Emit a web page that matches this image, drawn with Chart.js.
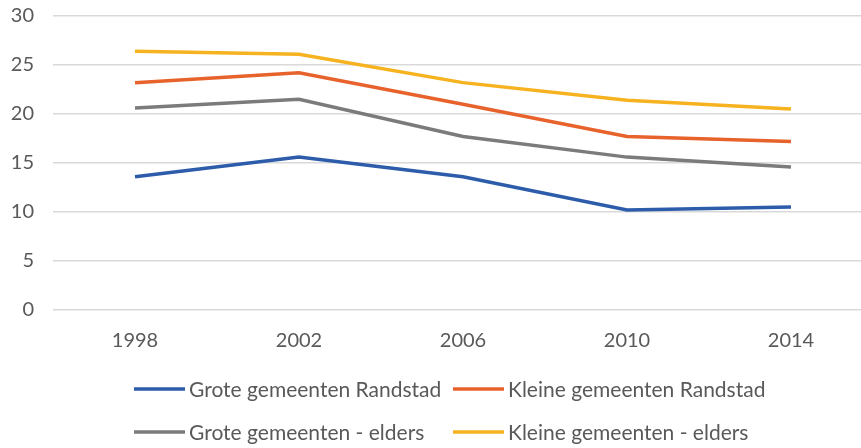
<!DOCTYPE html>
<html>
<head>
<meta charset="utf-8">
<script src="https://cdn.jsdelivr.net/npm/chart.js@4.4.1/dist/chart.umd.min.js"></script>
<style>
    html, body { margin: 0; padding: 0; background: #fff; overflow: hidden; }
    #wrap { position: relative; width: 880px; height: 448px; }
</style>
</head>
<body>
<div id="wrap"><canvas id="lineChart"></canvas></div>
<script>
// ===============================
//  DATA
// ===============================
const years = ["1998", "2002", "2006", "2010", "2014"];

const groteRandstad = [13.6, 15.6, 13.6, 10.2, 10.5];
const kleineRandstad = [23.2, 24.2, 21.0, 17.7, 17.2];
const groteElders = [20.6, 21.5, 17.7, 15.6, 14.6];
const kleineElders = [26.4, 26.1, 23.2, 21.4, 20.5];

const seriesNames = [
    "Grote gemeenten Randstad",
    "Kleine gemeenten Randstad",
    "Grote gemeenten - elders",
    "Kleine gemeenten - elders"
];

const yTicks = [0, 5, 10, 15, 20, 25, 30];

// ===============================
//  COLOURS
// ===============================
const LINE_COLOURS = ["#2c5caa", "#e8622c", "#7b7b7b", "#f6b21f"];
const TEXT_COLOUR = "#595959";
const FONT = "Lato";

// ===============================
//  LEGEND (2 x 2 grid, like the original)
// ===============================
const gridLegend = {
    id: "gridLegend",
    afterDraw(chart, args, opts) {
        const ctx = chart.ctx;
        ctx.save();
        ctx.font = `${opts.size}px ${FONT}`;
        ctx.textBaseline = "middle";
        ctx.textAlign = "left";
        chart.data.datasets.forEach((ds, i) => {
            const x = opts.cols[i % 2];
            const y = opts.rows[Math.floor(i / 2)];
            ctx.strokeStyle = ds.borderColor;
            ctx.lineWidth = 3.5;
            ctx.beginPath();
            ctx.moveTo(x, y);
            ctx.lineTo(x + opts.lineLength, y);
            ctx.stroke();
            ctx.fillStyle = TEXT_COLOUR;
            ctx.fillText(ds.label, x + opts.lineLength + opts.gap, y + 1);
        });
        ctx.restore();
    }
};

// ===============================
//  BUILD CHART
// ===============================
function buildChart() {
    const values = [groteRandstad, kleineRandstad, groteElders, kleineElders];

    new Chart(document.getElementById("lineChart"), {
        type: "line",
        data: {
            labels: years,
            datasets: values.map((v, i) => ({
                label: seriesNames[i],
                data: v,
                borderColor: LINE_COLOURS[i],
                backgroundColor: LINE_COLOURS[i],
                borderWidth: 3.5,
                pointRadius: 0,
                tension: 0,
                fill: false
            }))
        },
        options: {
            responsive: true,
            maintainAspectRatio: false,
            animation: false,
            layout: { padding: { left: 0, right: 7, top: 16, bottom: 90 } },
            plugins: {
                legend: { display: false },
                tooltip: { enabled: false },
                gridLegend: {
                    cols: [134, 453],
                    rows: [389, 432],
                    lineLength: 51,
                    gap: 4,
                    size: 21
                }
            },
            scales: {
                x: {
                    offset: true,
                    grid: { display: false },
                    border: { display: false },
                    ticks: {
                        color: TEXT_COLOUR,
                        font: { family: FONT, size: 20 },
                        padding: 11,
                        maxRotation: 0
                    },
                    afterFit: s => { s.height = 48; }
                },
                y: {
                    min: 0,
                    max: 30,
                    afterBuildTicks: s => { s.ticks = yTicks.map(v => ({ value: v })); },
                    grid: { color: "#d9d9d9", lineWidth: 1.5, drawTicks: false },
                    border: { display: false },
                    ticks: {
                        color: TEXT_COLOUR,
                        font: { family: FONT, size: 20 },
                        padding: 19
                    },
                    afterFit: s => {
                        s.width = 53;
                        s.paddingTop = 0;
                        s.paddingBottom = 0;
                    }
                }
            }
        },
        plugins: [gridLegend]
    });
}

buildChart();
</script>
</body>
</html>
